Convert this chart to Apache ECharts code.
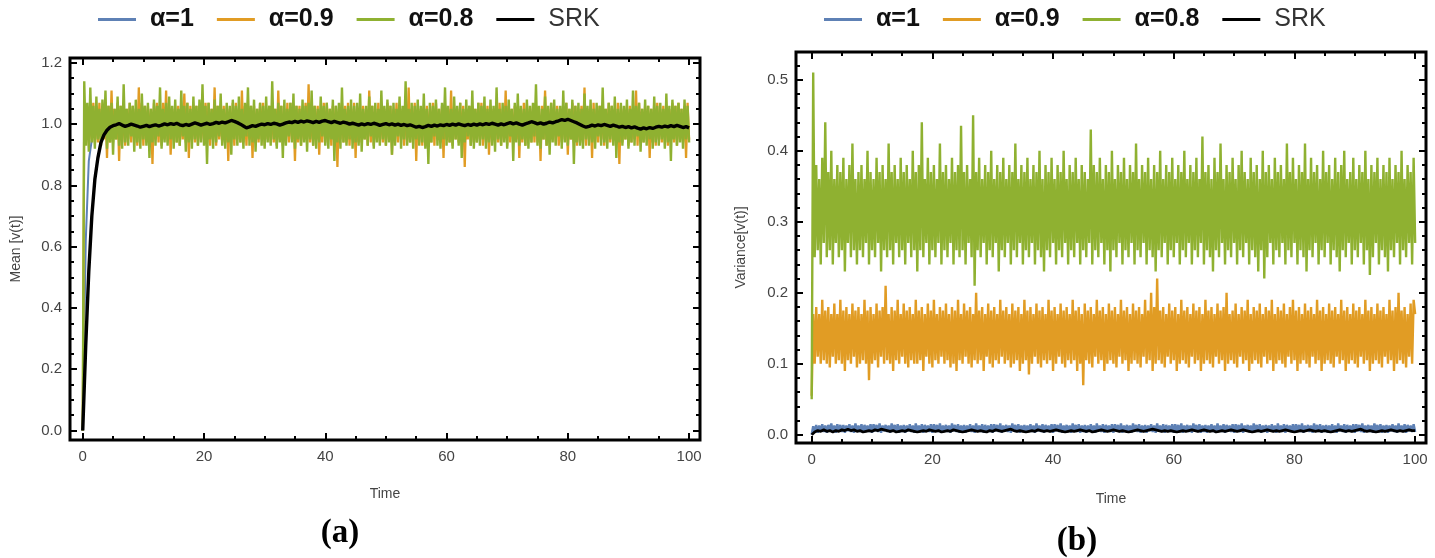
<!DOCTYPE html>
<html><head><meta charset="utf-8">
<script src="https://cdn.jsdelivr.net/npm/echarts@6/dist/echarts.min.js"></script>
<style>html,body{margin:0;padding:0;background:#fff}#c{width:1435px;height:558px}</style>
</head><body><div id="c"></div>
<script>
// ---------- labels & ticks ----------
const seriesNames = ['α=1', 'α=0.9', 'α=0.8', 'SRK'];
const stepFine = 0.25;   // time step of the densely sampled noisy curves
const stepCoarse = 0.5;  // time step of the smoother curves
const xTicks = [0, 20, 40, 60, 80, 100];
const xMinor = [5, 10, 15, 25, 30, 35, 45, 50, 55, 65, 70, 75, 85, 90, 95];
const yTicksMean = [0, 0.2, 0.4, 0.6, 0.8, 1.0, 1.2];
const yMinorMean = [0.05, 0.1, 0.15, 0.25, 0.3, 0.35, 0.45, 0.5, 0.55, 0.65, 0.7, 0.75, 0.85, 0.9, 0.95, 1.05, 1.1, 1.15];
const yTicksVar = [0, 0.1, 0.2, 0.3, 0.4, 0.5];
const yMinorVar = [0.02, 0.04, 0.06, 0.08, 0.12, 0.14, 0.16, 0.18, 0.22, 0.24, 0.26, 0.28, 0.32, 0.34, 0.36, 0.38, 0.42, 0.44, 0.46, 0.48, 0.52];

// ---------- (a) Mean[v(t)] ----------
// alpha = 1 (step 0.5)
const meanA1 = [
0, 0.62, 0.88, 0.95, 1.02, 0.97, 1.03, 0.98, 1.04, 0.97,
1.02, 0.96, 1.03, 0.98, 1.01, 0.97, 1.04, 0.99, 1.02, 0.96,
1.03, 0.98, 1.02, 0.97, 1.04, 0.96, 1.01, 0.98, 1.03, 0.97,
1.02, 0.99, 1.04, 0.97, 1.01, 0.96, 1.03, 0.98, 1.02, 0.97,
1.03, 0.96, 1.02, 0.98, 1.04, 0.97, 1.01, 0.99, 1.03, 0.96,
1.02, 0.97, 1.04, 0.98, 1.01, 0.96, 1.03, 0.97, 1.02, 0.99,
1.03, 0.96, 1.01, 0.98, 1.04, 0.97, 1.02, 0.96, 1.03, 0.98,
1.02, 0.97, 1.04, 0.99, 1.01, 0.96, 1.03, 0.97, 1.02, 0.98,
1.04, 0.96, 1.02, 0.97, 1.03, 0.99, 1.01, 0.96, 1.04, 0.98,
1.02, 0.97, 1.03, 0.96, 1.01, 0.98, 1.04, 0.97, 1.02, 0.99,
1.03, 0.96, 1.02, 0.98, 1.01, 0.97, 1.04, 0.96, 1.03, 0.98,
1.02, 0.99, 1.03, 0.97, 1.01, 0.96, 1.04, 0.98, 1.02, 0.97,
1.03, 0.96, 1.01, 0.99, 1.04, 0.97, 1.02, 0.98, 1.03, 0.96,
1.02, 0.97, 1.04, 0.98, 1.01, 0.96, 1.03, 0.99, 1.02, 0.97,
1.04, 0.96, 1.02, 0.98, 1.03, 0.97, 1.01, 0.96, 1.04, 0.99,
1.02, 0.97, 1.03, 0.98, 1.01, 0.96, 1.04, 0.97, 1.02, 0.98,
1.03, 0.96, 1.02, 0.99, 1.04, 0.97, 1.01, 0.98, 1.03, 0.96,
1.02, 0.97, 1.04, 0.98, 1.01, 0.96, 1.03, 0.97, 1.02, 0.99,
1.03, 0.96, 1.01, 0.98, 1.04, 0.97, 1.02, 0.96, 1.03, 0.98,
1.02, 0.97, 1.04, 0.99, 1.01, 0.96, 1.03, 0.97, 1.02, 0.98,
0.99];
// alpha = 0.9 (step 0.25)
const meanA09 = [
0, 1.03, 0.94, 1.06, 0.93, 1.05, 0.95, 1.07, 0.94, 1.06,
0.94, 1.07, 0.93, 1.05, 0.95, 1.06, 0.89, 1.06, 0.94, 1.11,
0.94, 1.05, 0.95, 1.07, 0.88, 1.06, 0.94, 1.06, 0.93, 1.05,
0.95, 1.07, 0.94, 1.06, 0.94, 1.05, 0.93, 1.12, 0.95, 1.07,
0.93, 1.06, 0.94, 1.06, 0.94, 1.05, 0.87, 1.07, 0.95, 1.07,
0.94, 1.05, 0.93, 1.07, 0.95, 1.11, 0.94, 1.06, 0.90, 1.05,
0.95, 1.06, 0.94, 1.06, 0.93, 1.05, 0.95, 1.10, 0.94, 1.07,
0.89, 1.06, 0.95, 1.05, 0.94, 1.06, 0.93, 1.06, 0.95, 1.05,
0.94, 1.07, 0.94, 1.07, 0.93, 1.05, 0.95, 1.12, 0.93, 1.06,
0.95, 1.05, 0.94, 1.06, 0.94, 1.06, 0.88, 1.05, 0.95, 1.07,
0.93, 1.07, 0.95, 1.05, 0.94, 1.11, 0.94, 1.06, 0.93, 1.05,
0.95, 1.06, 0.89, 1.06, 0.94, 1.05, 0.94, 1.07, 0.95, 1.07,
0.93, 1.05, 0.95, 1.06, 0.94, 1.06, 0.94, 1.05, 0.93, 1.11,
0.95, 1.06, 0.93, 1.05, 0.94, 1.07, 0.94, 1.07, 0.95, 1.05,
0.88, 1.06, 0.94, 1.06, 0.93, 1.05, 0.95, 1.07, 0.94, 1.13,
0.94, 1.05, 0.93, 1.06, 0.95, 1.06, 0.90, 1.05, 0.94, 1.07,
0.94, 1.07, 0.95, 1.05, 0.93, 1.06, 0.94, 1.06, 0.86, 1.05,
0.95, 1.07, 0.94, 1.06, 0.94, 1.07, 0.93, 1.05, 0.95, 1.07,
0.89, 1.05, 0.94, 1.06, 0.94, 1.06, 0.95, 1.05, 0.93, 1.11,
0.94, 1.06, 0.93, 1.05, 0.95, 1.07, 0.94, 1.06, 0.94, 1.05,
0.93, 1.07, 0.95, 1.06, 0.90, 1.05, 0.94, 1.07, 0.94, 1.06,
0.95, 1.05, 0.93, 1.06, 0.94, 1.12, 0.94, 1.05, 0.95, 1.07,
0.88, 1.06, 0.94, 1.05, 0.93, 1.06, 0.95, 1.06, 0.94, 1.05,
0.94, 1.07, 0.93, 1.07, 0.95, 1.05, 0.94, 1.06, 0.89, 1.06,
0.95, 1.05, 0.94, 1.11, 0.93, 1.06, 0.95, 1.05, 0.94, 1.07,
0.94, 1.06, 0.86, 1.05, 0.95, 1.06, 0.93, 1.06, 0.94, 1.05,
0.94, 1.07, 0.95, 1.07, 0.93, 1.05, 0.94, 1.06, 0.90, 1.06,
0.95, 1.05, 0.94, 1.06, 0.94, 1.07, 0.93, 1.05, 0.95, 1.11,
0.93, 1.06, 0.94, 1.05, 0.94, 1.06, 0.95, 1.06, 0.89, 1.05,
0.94, 1.07, 0.93, 1.07, 0.95, 1.05, 0.94, 1.06, 0.94, 1.06,
0.94, 1.05, 0.88, 1.06, 0.95, 1.11, 0.93, 1.05, 0.94, 1.07,
0.95, 1.06, 0.94, 1.06, 0.93, 1.05, 0.94, 1.06, 0.95, 1.07,
0.90, 1.05, 0.95, 1.07, 0.94, 1.06, 0.93, 1.05, 0.94, 1.06,
0.94, 1.12, 0.93, 1.05, 0.95, 1.06, 0.89, 1.07, 0.94, 1.05,
0.94, 1.06, 0.95, 1.06, 0.93, 1.05, 0.94, 1.07, 0.94, 1.06,
0.95, 1.05, 0.94, 1.07, 0.87, 1.06, 0.94, 1.05, 0.95, 1.06,
0.93, 1.06, 0.94, 1.05, 0.95, 1.11, 0.93, 1.07, 0.94, 1.05,
0.94, 1.06, 0.95, 1.06, 0.89, 1.05, 0.94, 1.07, 0.93, 1.07,
0.95, 1.05, 0.94, 1.06, 0.94, 1.06, 0.93, 1.05, 0.95, 1.07,
0.94, 1.06, 0.93, 1.07, 0.95, 1.05, 0.94, 1.06, 0.89, 1.07,
0.95];
// alpha = 0.8 (step 0.25)
const meanA08 = [
0, 1.14, 0.93, 1.07, 0.91, 1.12, 0.94, 1.06, 0.92, 1.09,
0.95, 1.05, 0.93, 1.08, 0.96, 1.11, 0.92, 1.06, 0.94, 1.07,
0.90, 1.05, 0.95, 1.09, 0.93, 1.06, 0.92, 1.13, 0.94, 1.05,
0.93, 1.07, 0.96, 1.06, 0.91, 1.08, 0.94, 1.05, 0.92, 1.10,
0.95, 1.06, 0.93, 1.07, 0.89, 1.05, 0.94, 1.08, 0.93, 1.06,
0.96, 1.12, 0.92, 1.05, 0.94, 1.07, 0.93, 1.09, 0.95, 1.06,
0.92, 1.08, 0.94, 1.05, 0.93, 1.11, 0.96, 1.06, 0.91, 1.07,
0.94, 1.05, 0.92, 1.09, 0.95, 1.06, 0.93, 1.08, 0.94, 1.13,
0.93, 1.06, 0.87, 1.07, 0.95, 1.05, 0.92, 1.08, 0.94, 1.06,
0.96, 1.10, 0.93, 1.05, 0.92, 1.07, 0.94, 1.06, 0.90, 1.08,
0.95, 1.06, 0.93, 1.09, 0.94, 1.05, 0.92, 1.07, 0.96, 1.12,
0.93, 1.06, 0.94, 1.08, 0.91, 1.05, 0.95, 1.07, 0.93, 1.06,
0.92, 1.09, 0.94, 1.06, 0.93, 1.14, 0.95, 1.05, 0.92, 1.07,
0.94, 1.06, 0.89, 1.08, 0.93, 1.05, 0.96, 1.07, 0.94, 1.10,
0.92, 1.06, 0.95, 1.05, 0.93, 1.08, 0.94, 1.06, 0.91, 1.07,
0.95, 1.11, 0.93, 1.06, 0.92, 1.05, 0.94, 1.09, 0.96, 1.06,
0.93, 1.07, 0.92, 1.05, 0.95, 1.08, 0.88, 1.06, 0.94, 1.07,
0.92, 1.12, 0.94, 1.05, 0.93, 1.06, 0.95, 1.08, 0.92, 1.06,
0.94, 1.07, 0.93, 1.10, 0.91, 1.05, 0.95, 1.06, 0.93, 1.09,
0.96, 1.06, 0.92, 1.07, 0.94, 1.05, 0.93, 1.11, 0.95, 1.06,
0.93, 1.08, 0.94, 1.06, 0.90, 1.07, 0.93, 1.05, 0.96, 1.09,
0.92, 1.06, 0.95, 1.14, 0.93, 1.05, 0.94, 1.07, 0.92, 1.06,
0.95, 1.08, 0.93, 1.06, 0.94, 1.10, 0.92, 1.05, 0.87, 1.07,
0.94, 1.06, 0.96, 1.08, 0.93, 1.05, 0.92, 1.07, 0.95, 1.12,
0.93, 1.06, 0.94, 1.05, 0.92, 1.09, 0.95, 1.06, 0.93, 1.07,
0.89, 1.05, 0.94, 1.08, 0.96, 1.06, 0.93, 1.11, 0.92, 1.05,
0.94, 1.07, 0.93, 1.06, 0.95, 1.09, 0.92, 1.05, 0.94, 1.08,
0.93, 1.06, 0.91, 1.12, 0.95, 1.05, 0.93, 1.07, 0.94, 1.06,
0.92, 1.08, 0.96, 1.05, 0.88, 1.07, 0.94, 1.10, 0.93, 1.06,
0.95, 1.05, 0.93, 1.08, 0.92, 1.06, 0.94, 1.07, 0.96, 1.13,
0.93, 1.06, 0.92, 1.05, 0.95, 1.09, 0.93, 1.06, 0.90, 1.07,
0.94, 1.08, 0.93, 1.05, 0.96, 1.06, 0.92, 1.11, 0.94, 1.07,
0.93, 1.05, 0.95, 1.08, 0.87, 1.06, 0.94, 1.07, 0.93, 1.05,
0.92, 1.10, 0.95, 1.06, 0.93, 1.08, 0.94, 1.05, 0.92, 1.07,
0.96, 1.06, 0.93, 1.12, 0.94, 1.05, 0.92, 1.07, 0.95, 1.06,
0.93, 1.09, 0.89, 1.05, 0.94, 1.07, 0.93, 1.06, 0.95, 1.08,
0.92, 1.05, 0.94, 1.11, 0.93, 1.06, 0.96, 1.07, 0.91, 1.05,
0.94, 1.08, 0.93, 1.06, 0.95, 1.05, 0.92, 1.09, 0.94, 1.06,
0.93, 1.07, 0.95, 1.05, 0.92, 1.10, 0.94, 1.06, 0.88, 1.08,
0.95, 1.06, 0.93, 1.07, 0.94, 1.05, 0.92, 1.08, 0.95, 1.06,
0.94];
// SRK (step 0.5)
const meanSRK = [
0, 0.28, 0.52, 0.70, 0.82, 0.89, 0.94, 0.965, 0.98, 0.99,
0.995, 0.998, 1.002, 0.997, 0.993, 0.996, 1.0, 0.997, 0.994, 0.99,
0.993, 0.996, 0.992, 0.995, 0.998, 0.994, 0.997, 1.001, 0.998, 1.002,
0.999, 1.003, 0.998, 0.995, 0.999, 0.996, 1.0, 1.004, 1.001, 0.997,
1.0, 1.003, 0.999, 1.002, 1.006, 1.003, 1.007, 1.004, 1.008, 1.012,
1.009, 1.005, 1.0, 0.994, 0.988, 0.991, 0.995, 0.993, 0.997, 1.0,
0.998, 1.002, 0.999, 1.003, 1.001, 0.997, 1.0, 1.004, 1.007, 1.005,
1.009, 1.006, 1.01, 1.007, 1.011, 1.008, 1.005, 1.009, 1.006, 1.01,
1.012, 1.008, 1.005, 1.009, 1.006, 1.003, 1.007, 1.004, 1.0, 1.003,
1.0, 0.997, 1.001, 0.998, 1.002, 0.999, 1.003, 1.0, 0.996, 0.999,
1.002, 0.998, 1.001, 0.997, 1.0, 0.996, 0.999, 0.995, 0.998, 0.994,
0.99, 0.993, 0.989, 0.992, 0.996, 0.993, 0.997, 0.994, 0.998, 0.995,
0.999, 0.996, 1.0, 0.997, 1.001, 0.998, 0.995, 0.999, 0.996, 1.0,
0.997, 1.001, 0.998, 1.002, 0.999, 1.003, 1.0, 0.997, 1.001, 0.998,
1.002, 1.005, 1.001, 1.004, 1.0, 0.997, 1.001, 1.004, 1.008, 1.005,
1.001, 1.004, 1.0, 1.003, 1.007, 1.004, 1.008, 1.011, 1.015, 1.012,
1.016, 1.012, 1.008, 1.004, 0.999, 0.994, 0.99, 0.993, 0.997, 0.994,
0.998, 0.995, 0.999, 0.996, 0.993, 0.997, 0.994, 0.99, 0.993, 0.989,
0.992, 0.988, 0.991, 0.987, 0.984, 0.988, 0.985, 0.989, 0.986, 0.99,
0.993, 0.99, 0.994, 0.991, 0.995, 0.992, 0.996, 0.993, 0.989, 0.992,
0.988];

// ---------- (b) Variance[v(t)] ----------
// alpha = 1 (step 0.25)
const varA1 = [
0, 0.012, 0.004, 0.014, 0.003, 0.013, 0.005, 0.015, 0.004, 0.013,
0.003, 0.014, 0.005, 0.016, 0.004, 0.013, 0.003, 0.015, 0.005, 0.014,
0.004, 0.014, 0.003, 0.013, 0.005, 0.015, 0.004, 0.013, 0.003, 0.016,
0.005, 0.013, 0.004, 0.015, 0.003, 0.014, 0.005, 0.013, 0.004, 0.015,
0.003, 0.015, 0.005, 0.014, 0.004, 0.016, 0.003, 0.013, 0.005, 0.014,
0.004, 0.013, 0.003, 0.016, 0.005, 0.014, 0.004, 0.015, 0.003, 0.013,
0.004, 0.014, 0.003, 0.013, 0.005, 0.015, 0.004, 0.013, 0.003, 0.016,
0.005, 0.013, 0.004, 0.015, 0.003, 0.014, 0.005, 0.013, 0.004, 0.015,
0.003, 0.015, 0.005, 0.014, 0.004, 0.016, 0.003, 0.013, 0.005, 0.014,
0.004, 0.013, 0.003, 0.016, 0.005, 0.014, 0.004, 0.015, 0.003, 0.013,
0.004, 0.014, 0.003, 0.013, 0.005, 0.015, 0.004, 0.013, 0.003, 0.016,
0.005, 0.013, 0.004, 0.015, 0.003, 0.014, 0.005, 0.013, 0.004, 0.015,
0.003, 0.015, 0.005, 0.014, 0.004, 0.016, 0.003, 0.013, 0.005, 0.014,
0.004, 0.013, 0.003, 0.016, 0.005, 0.014, 0.004, 0.015, 0.003, 0.013,
0.004, 0.014, 0.003, 0.013, 0.005, 0.015, 0.004, 0.013, 0.003, 0.016,
0.005, 0.013, 0.004, 0.015, 0.003, 0.014, 0.005, 0.013, 0.004, 0.015,
0.003, 0.015, 0.005, 0.014, 0.004, 0.016, 0.003, 0.013, 0.005, 0.014,
0.004, 0.013, 0.003, 0.016, 0.005, 0.014, 0.004, 0.015, 0.003, 0.013,
0.004, 0.014, 0.003, 0.013, 0.005, 0.015, 0.004, 0.013, 0.003, 0.016,
0.005, 0.013, 0.004, 0.015, 0.003, 0.014, 0.005, 0.013, 0.004, 0.015,
0.003, 0.015, 0.005, 0.014, 0.004, 0.016, 0.003, 0.013, 0.005, 0.014,
0.004, 0.013, 0.003, 0.016, 0.005, 0.014, 0.004, 0.015, 0.003, 0.013,
0.004, 0.014, 0.003, 0.013, 0.005, 0.015, 0.004, 0.013, 0.003, 0.016,
0.005, 0.013, 0.004, 0.015, 0.003, 0.014, 0.005, 0.013, 0.004, 0.015,
0.003, 0.015, 0.005, 0.014, 0.004, 0.016, 0.003, 0.013, 0.005, 0.014,
0.004, 0.013, 0.003, 0.016, 0.005, 0.014, 0.004, 0.015, 0.003, 0.013,
0.004, 0.014, 0.003, 0.013, 0.005, 0.015, 0.004, 0.013, 0.003, 0.016,
0.005, 0.013, 0.004, 0.015, 0.003, 0.014, 0.005, 0.013, 0.004, 0.015,
0.003, 0.015, 0.005, 0.014, 0.004, 0.016, 0.003, 0.013, 0.005, 0.014,
0.004, 0.013, 0.003, 0.016, 0.005, 0.014, 0.004, 0.015, 0.003, 0.013,
0.004, 0.014, 0.003, 0.013, 0.005, 0.015, 0.004, 0.013, 0.003, 0.016,
0.005, 0.013, 0.004, 0.015, 0.003, 0.014, 0.005, 0.013, 0.004, 0.015,
0.003, 0.015, 0.005, 0.014, 0.004, 0.016, 0.003, 0.013, 0.005, 0.014,
0.004, 0.013, 0.003, 0.016, 0.005, 0.014, 0.004, 0.015, 0.003, 0.013,
0.004, 0.014, 0.003, 0.013, 0.005, 0.015, 0.004, 0.013, 0.003, 0.016,
0.005, 0.013, 0.004, 0.015, 0.003, 0.014, 0.005, 0.013, 0.004, 0.015,
0.003, 0.015, 0.005, 0.014, 0.004, 0.016, 0.003, 0.013, 0.005, 0.014,
0.004, 0.013, 0.003, 0.016, 0.005, 0.014, 0.004, 0.015, 0.003, 0.013,
0.004, 0.014, 0.003, 0.013, 0.005, 0.015, 0.004, 0.013, 0.003, 0.016,
0.005, 0.013, 0.004, 0.015, 0.003, 0.014, 0.005, 0.013, 0.004, 0.015,
0.004];
// alpha = 0.9 (step 0.25)
const varA09 = [
0.055, 0.17, 0.10, 0.18, 0.11, 0.17, 0.10, 0.19, 0.105, 0.175,
0.10, 0.18, 0.095, 0.17, 0.11, 0.185, 0.10, 0.17, 0.105, 0.19,
0.10, 0.175, 0.09, 0.18, 0.105, 0.17, 0.10, 0.185, 0.11, 0.175,
0.095, 0.18, 0.10, 0.17, 0.105, 0.19, 0.10, 0.175, 0.077, 0.18,
0.10, 0.17, 0.105, 0.185, 0.095, 0.175, 0.11, 0.18, 0.10, 0.21,
0.105, 0.17, 0.10, 0.18, 0.09, 0.175, 0.105, 0.19, 0.10, 0.17,
0.11, 0.185, 0.10, 0.175, 0.095, 0.18, 0.105, 0.17, 0.10, 0.19,
0.10, 0.175, 0.105, 0.18, 0.09, 0.17, 0.11, 0.185, 0.10, 0.175,
0.095, 0.19, 0.105, 0.17, 0.10, 0.18, 0.11, 0.175, 0.10, 0.185,
0.105, 0.17, 0.095, 0.18, 0.10, 0.175, 0.09, 0.19, 0.105, 0.17,
0.10, 0.185, 0.11, 0.175, 0.10, 0.18, 0.095, 0.17, 0.105, 0.20,
0.10, 0.175, 0.105, 0.18, 0.09, 0.17, 0.11, 0.185, 0.10, 0.175,
0.095, 0.18, 0.105, 0.17, 0.10, 0.19, 0.11, 0.175, 0.10, 0.18,
0.105, 0.17, 0.095, 0.185, 0.10, 0.175, 0.105, 0.18, 0.09, 0.17,
0.10, 0.19, 0.105, 0.175, 0.085, 0.18, 0.10, 0.17, 0.11, 0.185,
0.10, 0.175, 0.095, 0.18, 0.105, 0.17, 0.10, 0.19, 0.105, 0.175,
0.09, 0.18, 0.10, 0.17, 0.11, 0.185, 0.10, 0.175, 0.095, 0.18,
0.105, 0.17, 0.10, 0.19, 0.105, 0.175, 0.09, 0.18, 0.10, 0.17,
0.07, 0.185, 0.105, 0.175, 0.10, 0.18, 0.095, 0.17, 0.11, 0.19,
0.10, 0.175, 0.105, 0.18, 0.09, 0.17, 0.10, 0.185, 0.105, 0.175,
0.10, 0.18, 0.095, 0.17, 0.11, 0.19, 0.10, 0.175, 0.105, 0.18,
0.09, 0.17, 0.10, 0.185, 0.105, 0.175, 0.10, 0.18, 0.095, 0.17,
0.11, 0.19, 0.10, 0.175, 0.105, 0.20, 0.09, 0.18, 0.10, 0.22,
0.105, 0.175, 0.10, 0.18, 0.095, 0.17, 0.11, 0.185, 0.10, 0.175,
0.105, 0.18, 0.09, 0.17, 0.10, 0.19, 0.105, 0.175, 0.10, 0.18,
0.095, 0.17, 0.11, 0.185, 0.10, 0.175, 0.105, 0.18, 0.09, 0.17,
0.10, 0.19, 0.105, 0.175, 0.10, 0.18, 0.095, 0.17, 0.11, 0.185,
0.10, 0.175, 0.105, 0.18, 0.09, 0.20, 0.10, 0.17, 0.105, 0.175,
0.10, 0.185, 0.095, 0.17, 0.11, 0.18, 0.10, 0.175, 0.105, 0.19,
0.09, 0.17, 0.10, 0.18, 0.105, 0.175, 0.10, 0.185, 0.095, 0.17,
0.11, 0.18, 0.10, 0.175, 0.105, 0.19, 0.09, 0.17, 0.10, 0.18,
0.105, 0.175, 0.10, 0.185, 0.095, 0.17, 0.11, 0.18, 0.10, 0.19,
0.105, 0.175, 0.09, 0.18, 0.10, 0.17, 0.105, 0.185, 0.10, 0.175,
0.095, 0.18, 0.11, 0.17, 0.10, 0.19, 0.105, 0.175, 0.09, 0.18,
0.10, 0.17, 0.105, 0.185, 0.10, 0.175, 0.095, 0.18, 0.11, 0.17,
0.10, 0.19, 0.105, 0.175, 0.09, 0.18, 0.10, 0.17, 0.105, 0.185,
0.10, 0.175, 0.095, 0.18, 0.11, 0.17, 0.10, 0.19, 0.105, 0.175,
0.09, 0.18, 0.10, 0.17, 0.105, 0.185, 0.10, 0.175, 0.095, 0.18,
0.11, 0.17, 0.10, 0.19, 0.105, 0.175, 0.09, 0.18, 0.10, 0.20,
0.105, 0.175, 0.10, 0.18, 0.095, 0.17, 0.11, 0.185, 0.10, 0.19,
0.17];
// alpha = 0.8 (step 0.25)
const varA08 = [
0.05, 0.51, 0.25, 0.38, 0.26, 0.36, 0.24, 0.39, 0.27, 0.44,
0.25, 0.37, 0.26, 0.40, 0.24, 0.36, 0.27, 0.38, 0.25, 0.37,
0.26, 0.39, 0.23, 0.36, 0.27, 0.38, 0.25, 0.41, 0.26, 0.36,
0.24, 0.37, 0.26, 0.38, 0.25, 0.36, 0.27, 0.40, 0.24, 0.37,
0.26, 0.36, 0.25, 0.39, 0.27, 0.37, 0.23, 0.38, 0.26, 0.36,
0.25, 0.41, 0.26, 0.37, 0.24, 0.38, 0.27, 0.36, 0.25, 0.39,
0.26, 0.37, 0.24, 0.38, 0.27, 0.36, 0.25, 0.40, 0.26, 0.37,
0.23, 0.38, 0.26, 0.44, 0.25, 0.36, 0.27, 0.39, 0.24, 0.37,
0.26, 0.38, 0.25, 0.36, 0.27, 0.41, 0.24, 0.37, 0.26, 0.38,
0.25, 0.36, 0.27, 0.39, 0.24, 0.37, 0.26, 0.38, 0.25, 0.435,
0.26, 0.37, 0.24, 0.38, 0.27, 0.36, 0.25, 0.45, 0.21, 0.37,
0.26, 0.39, 0.25, 0.36, 0.27, 0.38, 0.24, 0.37, 0.26, 0.40,
0.25, 0.36, 0.27, 0.38, 0.23, 0.37, 0.26, 0.39, 0.25, 0.36,
0.27, 0.38, 0.24, 0.37, 0.26, 0.41, 0.25, 0.36, 0.27, 0.38,
0.24, 0.37, 0.26, 0.39, 0.25, 0.36, 0.27, 0.38, 0.24, 0.37,
0.26, 0.40, 0.25, 0.36, 0.23, 0.38, 0.26, 0.37, 0.25, 0.39,
0.27, 0.36, 0.24, 0.38, 0.26, 0.37, 0.25, 0.40, 0.27, 0.36,
0.24, 0.38, 0.26, 0.37, 0.25, 0.39, 0.27, 0.36, 0.24, 0.38,
0.26, 0.37, 0.25, 0.36, 0.27, 0.43, 0.24, 0.38, 0.26, 0.37,
0.25, 0.39, 0.27, 0.36, 0.24, 0.38, 0.26, 0.37, 0.23, 0.40,
0.26, 0.36, 0.25, 0.38, 0.27, 0.37, 0.24, 0.39, 0.26, 0.36,
0.25, 0.38, 0.27, 0.37, 0.24, 0.41, 0.26, 0.36, 0.25, 0.38,
0.27, 0.37, 0.24, 0.39, 0.26, 0.36, 0.25, 0.38, 0.23, 0.37,
0.26, 0.40, 0.25, 0.36, 0.27, 0.38, 0.24, 0.37, 0.26, 0.39,
0.25, 0.36, 0.27, 0.38, 0.24, 0.37, 0.26, 0.40, 0.25, 0.36,
0.27, 0.38, 0.24, 0.37, 0.26, 0.39, 0.25, 0.36, 0.27, 0.42,
0.24, 0.37, 0.26, 0.38, 0.25, 0.36, 0.23, 0.39, 0.26, 0.37,
0.25, 0.41, 0.27, 0.36, 0.24, 0.38, 0.26, 0.37, 0.25, 0.39,
0.27, 0.36, 0.24, 0.38, 0.26, 0.40, 0.25, 0.37, 0.27, 0.36,
0.24, 0.39, 0.26, 0.37, 0.25, 0.38, 0.23, 0.36, 0.26, 0.40,
0.22, 0.37, 0.25, 0.38, 0.27, 0.36, 0.24, 0.39, 0.26, 0.37,
0.25, 0.38, 0.27, 0.36, 0.24, 0.41, 0.26, 0.37, 0.25, 0.39,
0.27, 0.36, 0.24, 0.38, 0.26, 0.37, 0.25, 0.41, 0.23, 0.36,
0.26, 0.39, 0.25, 0.37, 0.27, 0.38, 0.24, 0.36, 0.26, 0.40,
0.25, 0.37, 0.27, 0.38, 0.24, 0.36, 0.26, 0.39, 0.25, 0.37,
0.23, 0.38, 0.26, 0.40, 0.25, 0.36, 0.27, 0.37, 0.24, 0.39,
0.26, 0.36, 0.25, 0.38, 0.27, 0.37, 0.24, 0.40, 0.26, 0.36,
0.225, 0.38, 0.25, 0.37, 0.27, 0.39, 0.24, 0.36, 0.26, 0.38,
0.25, 0.37, 0.23, 0.39, 0.26, 0.36, 0.25, 0.38, 0.27, 0.37,
0.24, 0.40, 0.26, 0.36, 0.25, 0.38, 0.27, 0.37, 0.24, 0.39,
0.27];
// SRK (step 0.5)
const varSRK = [
0, 0.004, 0.006, 0.005, 0.007, 0.005, 0.006, 0.004, 0.006, 0.005,
0.007, 0.006, 0.008, 0.006, 0.007, 0.005, 0.006, 0.004, 0.005, 0.006,
0.005, 0.007, 0.006, 0.008, 0.007, 0.006, 0.005, 0.006, 0.004, 0.005,
0.006, 0.005, 0.007, 0.006, 0.005, 0.004, 0.005, 0.006, 0.005, 0.007,
0.006, 0.005, 0.006, 0.004, 0.005, 0.006, 0.005, 0.007, 0.006, 0.005,
0.004, 0.005, 0.006, 0.007, 0.006, 0.005, 0.006, 0.005, 0.004, 0.006,
0.005, 0.007, 0.006, 0.005, 0.006, 0.007, 0.008, 0.006, 0.005, 0.006,
0.005, 0.004, 0.005, 0.006, 0.005, 0.007, 0.006, 0.005, 0.006, 0.005,
0.006, 0.007, 0.006, 0.005, 0.004, 0.005, 0.006, 0.005, 0.006, 0.007,
0.006, 0.005, 0.006, 0.004, 0.005, 0.006, 0.007, 0.006, 0.005, 0.006,
0.007, 0.006, 0.005, 0.006, 0.005, 0.004, 0.005, 0.006, 0.007, 0.006,
0.005, 0.006, 0.007, 0.008, 0.007, 0.006, 0.005, 0.006, 0.005, 0.006,
0.005, 0.004, 0.005, 0.006, 0.005, 0.006, 0.007, 0.006, 0.005, 0.006,
0.007, 0.006, 0.005, 0.006, 0.004, 0.005, 0.006, 0.005, 0.006, 0.007,
0.006, 0.005, 0.006, 0.007, 0.006, 0.005, 0.004, 0.005, 0.006, 0.005,
0.006, 0.007, 0.006, 0.005, 0.006, 0.005, 0.006, 0.007, 0.006, 0.005,
0.004, 0.005, 0.006, 0.005, 0.006, 0.007, 0.006, 0.005, 0.006, 0.005,
0.006, 0.005, 0.004, 0.005, 0.006, 0.007, 0.006, 0.005, 0.006, 0.005,
0.006, 0.007, 0.008, 0.006, 0.005, 0.006, 0.005, 0.004, 0.005, 0.006,
0.005, 0.006, 0.007, 0.006, 0.005, 0.006, 0.005, 0.006, 0.007, 0.006,
0.006];

// ---------- style ----------
const colors = ['#5E81B5', '#E19C24', '#8FB131', '#000000'];
const labelFont = 'Liberation Sans, Arial, sans-serif';

function xAxisSet(grid, min, max, name, nameGap) {
  const base = { gridIndex: grid, type: 'value', min: min, max: max, axisLine: { show: false, onZero: false }, splitLine: { show: false } };
  return [
    Object.assign({}, base, { position: 'bottom', name: name, nameLocation: 'middle', nameGap: nameGap,
      nameTextStyle: { fontFamily: labelFont, fontSize: 14, color: '#444' },
      axisTick: { inside: true, length: 7, customValues: xTicks, lineStyle: { color: '#000', width: 2 } },
      axisLabel: { customValues: xTicks, fontFamily: labelFont, fontSize: 15, color: '#444', margin: 9 } }),
    Object.assign({}, base, { position: 'bottom', axisLabel: { show: false },
      axisTick: { inside: true, length: 4, customValues: xMinor, lineStyle: { color: '#000', width: 2 } } }),
    Object.assign({}, base, { position: 'top', axisLabel: { show: false },
      axisTick: { inside: true, length: 7, customValues: xTicks, lineStyle: { color: '#000', width: 2 } } }),
    Object.assign({}, base, { position: 'top', axisLabel: { show: false },
      axisTick: { inside: true, length: 4, customValues: xMinor, lineStyle: { color: '#000', width: 2 } } })
  ];
}
function yAxisSet(grid, min, max, major, minor, digits, name, nameGap) {
  const base = { gridIndex: grid, type: 'value', min: min, max: max, axisLine: { show: false, onZero: false }, splitLine: { show: false } };
  return [
    Object.assign({}, base, { position: 'left', name: name, nameLocation: 'middle', nameGap: nameGap,
      nameTextStyle: { fontFamily: labelFont, fontSize: 14, color: '#444' },
      axisTick: { inside: true, length: 7, customValues: major, lineStyle: { color: '#000', width: 2 } },
      axisLabel: { customValues: major, fontFamily: labelFont, fontSize: 15, color: '#444', margin: 8,
        formatter: v => Number(v).toFixed(digits) } }),
    Object.assign({}, base, { position: 'left', axisLabel: { show: false },
      axisTick: { inside: true, length: 4, customValues: minor, lineStyle: { color: '#000', width: 2 } } }),
    Object.assign({}, base, { position: 'right', axisLabel: { show: false },
      axisTick: { inside: true, length: 7, customValues: major, lineStyle: { color: '#000', width: 2 } } }),
    Object.assign({}, base, { position: 'right', axisLabel: { show: false },
      axisTick: { inside: true, length: 4, customValues: minor, lineStyle: { color: '#000', width: 2 } } })
  ];
}
function mk(name, vals, step, axisIdx, color, width) {
  return { name: name, type: 'line', xAxisIndex: axisIdx, yAxisIndex: axisIdx,
    data: vals.map((v, i) => [i * step, v]), showSymbol: false, symbol: 'none', sampling: null,
    lineStyle: { color: color, width: width }, itemStyle: { color: color }, emphasis: { disabled: true } };
}
function legendAt(left) {
  return { data: seriesNames, left: left, top: 2, icon: 'rect', itemWidth: 38, itemHeight: 3, itemGap: 23,
    formatter: n => n === 'SRK' ? '{s|' + n + '}' : '{b|' + n + '}',
    textStyle: { rich: {
      b: { fontFamily: 'Liberation Sans Narrow, Arial Narrow, sans-serif', fontWeight: 'bold', fontSize: 25, color: '#111', padding: [0, 0, 0, 9] },
      s: { fontFamily: 'Liberation Sans Narrow, Arial Narrow, sans-serif', fontSize: 25, color: '#333', padding: [0, 0, 0, 9] } } } };
}

const option = {
  animation: false,
  backgroundColor: '#fff',
  legend: [legendAt(93), legendAt(819)],
  grid: [
    { left: 70, top: 58, width: 630, height: 382, show: true, borderColor: '#000', borderWidth: 3, backgroundColor: 'transparent' },
    { left: 796, top: 52, width: 630, height: 391, show: true, borderColor: '#000', borderWidth: 3, backgroundColor: 'transparent' }
  ],
  xAxis: [].concat(xAxisSet(0, -2.1, 101.8, 'Time', 47), xAxisSet(1, -2.6, 101.8, 'Time', 49)),
  yAxis: [].concat(yAxisSet(0, -0.031, 1.216, yTicksMean, yMinorMean, 1, 'Mean [v(t)]', 47),
                   yAxisSet(1, -0.0115, 0.539, yTicksVar, yMinorVar, 1, 'Variance[v(t)]', 48)),
  series: [
    mk('α=1', meanA1, stepCoarse, 0, colors[0], 2),
    mk('α=0.9', meanA09, stepFine, 0, colors[1], 2.3),
    mk('α=0.8', meanA08, stepFine, 0, colors[2], 2.4),
    mk('SRK', meanSRK, stepCoarse, 0, colors[3], 3.4),
    mk('α=1', varA1, stepFine, 4, colors[0], 2.4),
    mk('α=0.9', varA09, stepFine, 4, colors[1], 2.4),
    mk('α=0.8', varA08, stepFine, 4, colors[2], 2.4),
    mk('SRK', varSRK, stepCoarse, 4, colors[3], 2.8)
  ],
  graphic: [
    { type: 'text', x: 340, y: 533, style: { text: '(a)', fontFamily: 'Liberation Serif, Times New Roman, serif', fontWeight: 'bold', fontSize: 33, fill: '#000', align: 'center', verticalAlign: 'middle' } },
    { type: 'text', x: 1077, y: 541, style: { text: '(b)', fontFamily: 'Liberation Serif, Times New Roman, serif', fontWeight: 'bold', fontSize: 33, fill: '#000', align: 'center', verticalAlign: 'middle' } }
  ]
};
const chart = echarts.init(document.getElementById('c'), null, { renderer: 'canvas' });
chart.setOption(option);
</script>
</body></html>
